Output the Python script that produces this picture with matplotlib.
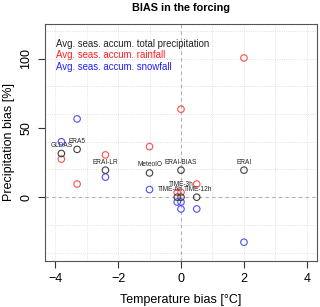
import matplotlib
matplotlib.use("Agg")
import matplotlib.pyplot as plt

plt.rcParams['font.family'] = ['Liberation Sans', 'DejaVu Sans']

# forcing datasets
names = ['GLDAS', 'ERA5', 'ERAI-LR', 'MeteoIO', 'ERAI-BIAS', 'ERAI',
         'TIME-3h', 'TIME-6h', 'TIME-12h']
temp_bias = [-3.8, -3.3, -2.4, -1.0, 0.0, 2.0, 0.0, -0.12, 0.5]
total_bias = [31.5, 34.5, 19.5, 17.5, 19.5, 19.5, 0.0, 0.0, 0.0]
rain_bias = [27.5, 9.5, 30.5, 36.5, 63.5, 100.5, 3.5, 3.5, 9.5]
snow_bias = [40.0, 56.5, 14.5, 5.5, -8.5, -32.5, -3.5, -3.5, -8.5]

# label offsets (points) to keep names readable
label_off = {'TIME-3h': (0, 9.5), 'TIME-6h': (-5, 5.8), 'TIME-12h': (1, 5.8)}

c_tot = '#404040'
c_rain = '#ff4d4d'
c_snow = '#4d4dff'

fig = plt.figure(figsize=(3.2, 3.07), dpi=100)
ax = fig.add_axes([0.1406, 0.150, 0.85, 0.772])

ax.set_xlim(-4.32, 4.32)
ax.set_ylim(-46, 125)

# dotted grid
for gx in range(-4, 5):
    ax.axvline(gx, color='#d9d9d9', lw=0.6, ls=':', zorder=0)
for gy in range(-40, 121, 20):
    ax.axhline(gy, color='#d9d9d9', lw=0.6, ls=':', zorder=0)
ax.axvline(0, color='#b0b0b0', lw=0.8, ls=(0, (3, 3)), zorder=1)
ax.axhline(0, color='#b0b0b0', lw=0.8, ls=(0, (3, 3)), zorder=1)

ms = 22
ax.scatter(temp_bias, rain_bias, s=ms, facecolors='none', edgecolors=c_rain, lw=0.8, zorder=3)
ax.scatter(temp_bias, snow_bias, s=ms, facecolors='none', edgecolors=c_snow, lw=0.8, zorder=3)
ax.scatter(temp_bias, total_bias, s=ms, facecolors='none', edgecolors=c_tot, lw=0.8, zorder=3)

for n, x, y in zip(names, temp_bias, total_bias):
    off = label_off.get(n, (0, 5.8))
    ax.annotate(n, (x, y), xytext=off, textcoords='offset points',
                ha='center', va='center', fontsize=4.7, color='#222222', zorder=4)

ax.text(0.04, 0.917, 'Avg. seas. accum. total precipitation', transform=ax.transAxes,
        fontsize=6.9, color='#222222', va='center')
ax.text(0.04, 0.868, 'Avg. seas. accum. rainfall', transform=ax.transAxes,
        fontsize=6.9, color='#ff2020', va='center')
ax.text(0.04, 0.820, 'Avg. seas. accum. snowfall', transform=ax.transAxes,
        fontsize=6.9, color='#2020ff', va='center')

ax.set_xticks([-4, -2, 0, 2, 4])
ax.set_xticklabels(['\u22124', '\u22122', '0', '2', '4'])
ax.set_yticks([0, 50, 100])
ax.set_yticklabels(['0', '50', '100'], rotation=90, va='center')
ax.tick_params(labelsize=9, length=5, width=0.8, color='#333333', pad=4)

for sp in ax.spines.values():
    sp.set_color('#555555')
    sp.set_linewidth(0.8)

ax.set_xlabel('Temperature bias [\u00b0C]', fontsize=9, labelpad=6)
ax.set_ylabel('Precipitation bias [%]', fontsize=9, labelpad=4)
fig.text(0.566, 0.974, 'BIAS in the forcing', ha='center', va='center',
         fontsize=7.8, fontweight='bold')

fig.savefig('out.png', dpi=100)
